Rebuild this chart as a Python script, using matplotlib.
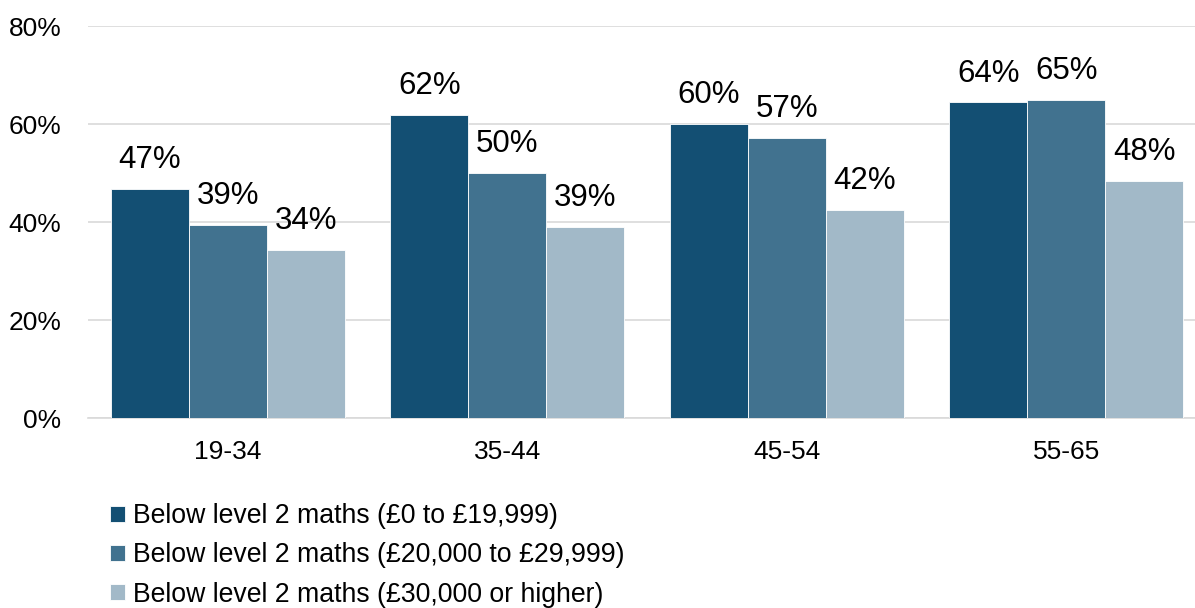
import numpy as np
import matplotlib.pyplot as plt

plt.rcParams["font.family"] = ["Liberation Sans", "DejaVu Sans"]

# ------------------------------------------------------------
# Data
# ------------------------------------------------------------

age_groups = ["19-34", "35-44", "45-54", "55-65"]

low_income = [46.7, 61.8, 60.0, 64.4]
mid_income = [39.4, 50.0, 57.1, 64.9]
high_income = [34.3, 39.0, 42.4, 48.4]

series_labels = [
    "Below level 2 maths (£0 to £19,999)",
    "Below level 2 maths (£20,000 to £29,999)",
    "Below level 2 maths (£30,000 or higher)",
]

colors = ["#134f73", "#41728f", "#a2b9c8"]

# ------------------------------------------------------------
# Figure
# ------------------------------------------------------------

fig = plt.figure(figsize=(11.95, 6.08), dpi=100)
ax = fig.add_axes([88 / 1195, 190 / 608, 1107 / 1195, 392 / 608])

x = np.arange(len(age_groups))
width = 0.279

for i, (values, label, color) in enumerate(
    zip([low_income, mid_income, high_income], series_labels, colors)
):
    bars = ax.bar(
        x + (i - 1) * width,
        values,
        width=width,
        color=color,
        edgecolor="white",
        linewidth=0.6,
        label=label,
        zorder=3,
    )
    for bar, v in zip(bars, values):
        ax.annotate(
            f"{round(v):d}%",
            (bar.get_x() + bar.get_width() / 2, v),
            xytext=(0, 10),
            textcoords="offset points",
            ha="center",
            va="bottom",
            fontsize=22.5,
            color="black",
        )

ax.set_xlim(-0.5, 3.46)
ax.set_ylim(0, 80)
ax.set_yticks([0, 20, 40, 60, 80])
ax.set_yticklabels([f"{t}%" for t in [0, 20, 40, 60, 80]], fontsize=19)
ax.set_xticks(x)
ax.set_xticklabels(age_groups, fontsize=19)
ax.tick_params(axis="x", length=0, pad=16)
ax.tick_params(axis="y", length=0, pad=19)

ax.grid(axis="y", color="#d9d9d9", linewidth=1.2, zorder=0)
for side in ["top", "right", "left"]:
    ax.spines[side].set_visible(False)
ax.spines["bottom"].set_color("#d9d9d9")
ax.spines["bottom"].set_linewidth(1.2)

fig.legend(
    loc="upper left",
    bbox_to_anchor=(86 / 1195, 1 - 479 / 608),
    frameon=False,
    fontsize=19.2,
    handlelength=0.55,
    handleheight=0.55,
    handletextpad=0.3,
    labelspacing=0.5,
)

fig.savefig("out.png", dpi=100)
